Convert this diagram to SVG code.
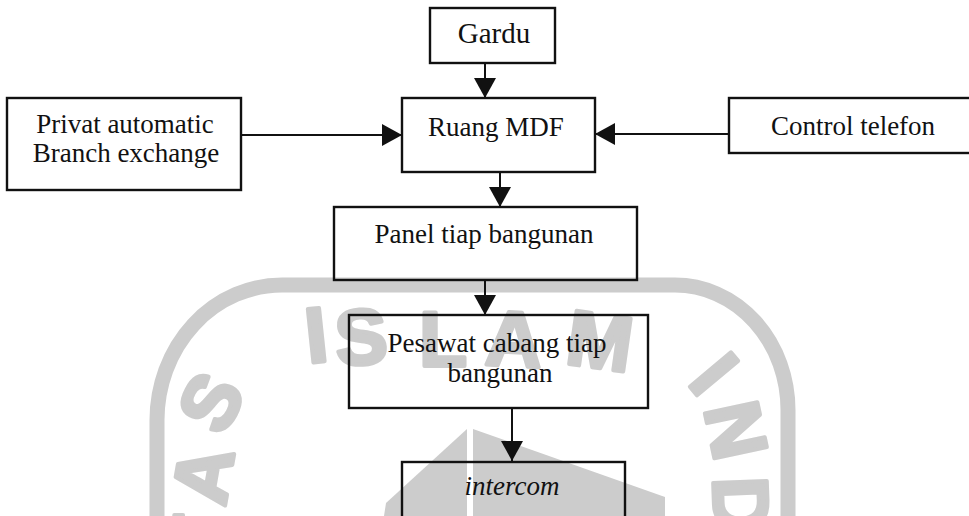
<svg xmlns="http://www.w3.org/2000/svg" width="969" height="516" viewBox="0 0 969 516">
  <defs>
    <marker id="head" viewBox="0 0 20 22" refX="20" refY="11" markerWidth="20" markerHeight="22" markerUnits="userSpaceOnUse" orient="auto">
      <path d="M0,0 L20,11 L0,22 z" fill="#111"/>
    </marker>
    <style>
      .box { fill: none; stroke: #111; stroke-width: 2.4; }
      .lbl { font-family: "Liberation Serif", "Times New Roman", serif; font-size: 27px; fill: #111; text-anchor: middle; }
      .it { font-style: italic; }
      .edge { fill: none; stroke: #111; stroke-width: 2; marker-end: url(#head); }
      .wm { fill: #cccccc; }
      .wmt { font-family: "Liberation Sans", Arial, sans-serif; font-weight: bold; font-size: 78px; fill: #cccccc; stroke: #cccccc; stroke-width: 4; stroke-linejoin: round; text-anchor: middle; }
    </style>
  </defs>

  <rect width="969" height="516" fill="#ffffff"/>

  <!-- faint seal printed behind the chart -->
  <g id="seal">
    <path d="M157,516 V420 A125,135 0 0 1 282,285 H675 A113,125 0 0 1 788,410 V516" fill="none" stroke="#cccccc" stroke-width="15"/>
    <g transform="translate(316,334) rotate(-6)"><text class="wmt" y="28">I</text></g>
    <g transform="translate(361,336) rotate(-4)"><text class="wmt" y="28">S</text></g>
    <g transform="translate(443,338)"><text class="wmt" y="28">L</text></g>
    <g transform="translate(514,338) rotate(3)"><text class="wmt" y="28">A</text></g>
    <g transform="translate(600,340) rotate(8)"><text class="wmt" y="28">M</text></g>
    <g transform="translate(210,402) rotate(-62)"><text class="wmt" y="28">S</text></g>
    <g transform="translate(202,475) rotate(-80)"><text class="wmt" y="28">A</text></g>
    <g transform="translate(200,538) rotate(-90)"><text class="wmt" y="28">T</text></g>
    <g transform="translate(715,373) rotate(50)"><text class="wmt" y="28">I</text></g>
    <g transform="translate(737,430) rotate(78)"><text class="wmt" y="28">N</text></g>
    <g transform="translate(742,505) rotate(88)"><text class="wmt" y="28">D</text></g>
    <polygon class="wm" points="467,429 386,503 384,516 467,516"/>
    <polygon class="wm" points="473,429 665,497 665,516 473,516"/>
  </g>

  <g id="connectors">
    <line class="edge" x1="485" y1="63" x2="485" y2="98"/>
    <line class="edge" x1="241" y1="135" x2="402" y2="135"/>
    <line class="edge" x1="729" y1="134" x2="595" y2="134"/>
    <line class="edge" x1="500" y1="172" x2="500" y2="207"/>
    <line class="edge" x1="485" y1="280" x2="485" y2="315"/>
    <line class="edge" x1="512" y1="408" x2="512" y2="461"/>
  </g>

  <g id="gardu">
    <rect class="box" x="430" y="8" width="125" height="55"/>
    <text class="lbl" x="494" y="43" style="font-size:29px">Gardu</text>
  </g>

  <g id="ruang-mdf">
    <rect class="box" x="402" y="98" width="193" height="74"/>
    <text class="lbl" x="496" y="136">Ruang MDF</text>
  </g>

  <g id="pabx">
    <rect class="box" x="7" y="98" width="234" height="92"/>
    <text class="lbl" x="125" y="133">Privat automatic</text>
    <text class="lbl" x="126" y="162">Branch exchange</text>
  </g>

  <g id="control-telefon">
    <rect class="box" x="729" y="98" width="250" height="55"/>
    <text class="lbl" x="853" y="135">Control telefon</text>
  </g>

  <g id="panel">
    <rect class="box" x="334" y="207" width="303" height="73"/>
    <text class="lbl" x="484" y="243">Panel tiap bangunan</text>
  </g>

  <g id="pesawat">
    <rect class="box" x="349" y="315" width="299" height="93"/>
    <text class="lbl" x="497" y="352">Pesawat cabang tiap</text>
    <text class="lbl" x="500" y="382">bangunan</text>
  </g>

  <g id="intercom">
    <rect class="box" x="402" y="462" width="223" height="70"/>
    <text class="lbl it" x="512" y="495">intercom</text>
  </g>
</svg>
